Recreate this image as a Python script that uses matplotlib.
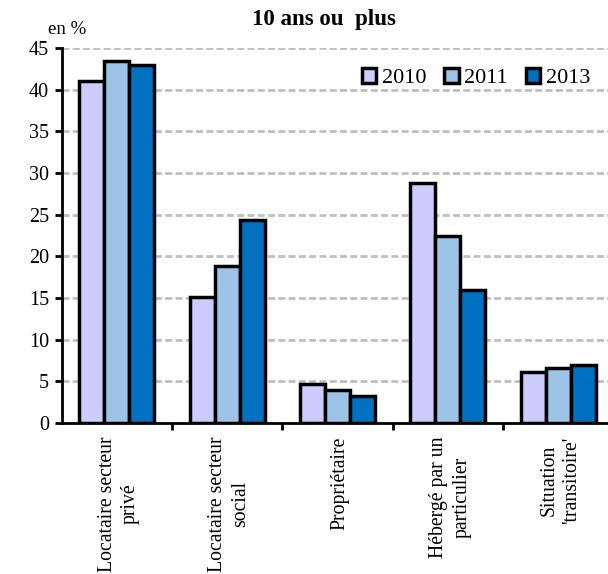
import numpy as np
import matplotlib
matplotlib.use("Agg")
import matplotlib.pyplot as plt

categories = ["Locataire secteur\nprivé", "Locataire secteur\nsocial", "Propriétaire",
              "Hébergé par un\nparticulier", "Situation\n'transitoire'"]
years = ["2010", "2011", "2013"]
v2010 = [41.0, 15.1, 4.7, 28.8, 6.1]
v2011 = [43.4, 18.9, 4.0, 22.5, 6.6]
v2013 = [43.0, 24.3, 3.3, 16.0, 7.0]
colors = ["#CCCCFF", "#9DC3E6", "#0070C0"]

plt.rcParams['font.family'] = ['Liberation Serif', 'DejaVu Serif']

fig = plt.figure(figsize=(6.08, 5.74), dpi=100)
ax = fig.add_axes([61.5/608, 151/574, 1 - 61.5/608, 375/574])

x = np.arange(len(categories))
w = 0.226
for i, (vals, c, yr) in enumerate(zip([v2010, v2011, v2013], colors, years)):
    ax.bar(x + (i - 1) * w, vals, w, color=c, edgecolor='black', linewidth=2.5,
           label=yr, zorder=3)

ax.set_ylim(0, 45)
ax.set_xlim(-0.5, 4.45)
ax.set_yticks(np.arange(0, 46, 5))
ax.yaxis.grid(True, color='#BFBFBF', linestyle=(0, (2.5, 1.2)), linewidth=2, zorder=0)
ax.set_axisbelow(True)
ax.spines['top'].set_visible(False)
ax.spines['right'].set_visible(False)
ax.spines['left'].set_linewidth(2)
ax.spines['bottom'].set_linewidth(2)
ax.tick_params(axis='y', direction='out', length=5, width=2, labelsize=14.5, pad=4)

# category ticks at group boundaries, labels at centres
ax.set_xticks(np.arange(0.5, 4.5, 1))
ax.set_xticklabels([])
ax.tick_params(axis='x', direction='out', length=5, width=2)
for xi, lab in zip(x, categories):
    ax.text(xi + 0.02, -1.6, lab, rotation=90, ha='center', va='top', fontsize=14.2,
            multialignment='center', transform=ax.transData, linespacing=1.3)

ax.legend(loc='center right', bbox_to_anchor=(590/608, 1 - 78/574),
          bbox_transform=fig.transFigure, ncol=3, frameon=False,
          fontsize=16, handlelength=0.65, handleheight=0.65, handletextpad=0.25,
          columnspacing=0.8, borderaxespad=0, borderpad=0)

fig.text(324/608, 1 - 19/574, "10 ans ou  plus", ha='center', va='center',
         fontsize=16.5, fontweight='bold')
fig.text(48/608, 1 - 29/574, "en %", ha='left', va='center', fontsize=13.5)

fig.savefig("out.png", dpi=100)
